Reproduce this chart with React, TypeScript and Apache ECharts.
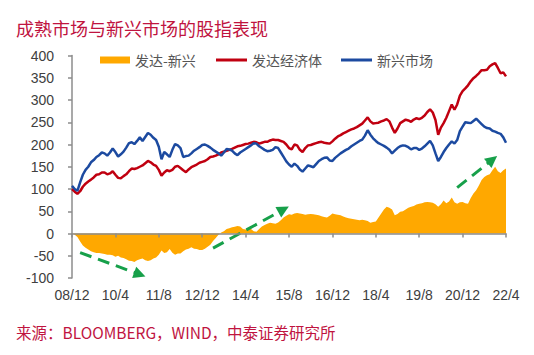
import React, { useEffect, useRef } from "react";
import * as echarts from "echarts";

// Monthly categories, 2008/12 .. 2022/4
const START_YEAR = 2008;
const START_MONTH = 12;
const N_MONTHS = 161;
const months: string[] = [];
for (let i = 0; i < N_MONTHS; i++) {
  const t = START_YEAR * 12 + (START_MONTH - 1) + i;
  const y = Math.floor(t / 12);
  const m = (t % 12) + 1;
  months.push(`${String(y % 100).padStart(2, "0")}/${m}`);
}

const titleText = "成熟市场与新兴市场的股指表现";
const sourceText = "来源：BLOOMBERG，WIND，中泰证券研究所";
const seriesNames = ["发达-新兴", "发达经济体", "新兴市场"];

// 新兴市场 (emerging markets index)
const emerging = [
  107, 100, 96, 115, 132, 143, 150, 160, 165, 172,
  176, 182, 180, 175, 182, 191, 183, 173, 178, 184,
  193, 203, 205, 201, 208, 216, 208, 217, 226, 222,
  215, 210, 195, 167, 183, 178, 172, 188, 201, 198,
  192, 172, 174, 175, 180, 186, 190, 194, 199, 200,
  197, 193, 188, 184, 180, 175, 182, 190, 189, 186,
  180, 176, 182, 186, 190, 194, 198, 203, 202, 196,
  192, 188, 185, 186, 188, 194, 192, 182, 172, 162,
  155, 150, 157, 152, 144, 139, 146, 153, 151, 149,
  156, 163, 167, 170, 171, 164, 163, 170, 175, 180,
  184, 188, 191, 196, 200, 204, 208, 211, 220, 232,
  222, 214, 208, 203, 200, 197, 193, 188, 180, 186,
  192, 196, 198, 197, 194, 189, 192, 192, 188, 191,
  196, 202, 208, 198, 180, 163, 172, 183, 192, 200,
  207, 202, 210, 230, 240, 250, 249, 248, 253, 258,
  252, 246, 240, 237, 236, 231, 229, 226, 224, 216,
  204,
];

// 发达经济体 (developed markets index)
const developed = [
  100, 94, 89, 95, 105, 112, 117, 121, 126, 132,
  133, 137, 137, 133, 135, 140, 132, 125, 124, 129,
  133, 140, 146, 145, 147, 150, 153, 158, 163, 160,
  155, 152, 143, 130, 137, 142, 140, 143, 150, 152,
  147, 142, 138, 144, 149, 152, 155, 159, 161, 163,
  167, 172, 173, 175, 178, 182, 184, 186, 188, 190,
  193, 196, 197, 199, 201, 202, 204, 206, 205, 202,
  204, 206, 206, 209, 211, 210, 210, 208, 206, 200,
  192, 189, 200, 198, 188, 183, 192, 198, 199, 201,
  203, 205, 206, 204, 203, 202, 207, 213, 218, 221,
  225, 228, 231, 234, 236, 239, 243, 247, 254, 261,
  252, 247, 248, 249, 252, 254, 257, 252, 238, 226,
  236, 248, 252, 256, 254, 251, 256, 259, 257, 260,
  265, 273, 279, 272, 255, 222, 238, 248, 260, 275,
  290, 278, 290, 310, 320, 326, 333, 342, 349, 354,
  360, 367, 367, 368, 376, 380, 383, 372, 360, 362,
  353,
];

// 发达-新兴 (spread)
const spread = [
  0, -3, -8, -18, -27, -32, -36, -40, -42, -44,
  -44, -45, -46, -48, -48, -49, -52, -50, -54, -55,
  -58, -61, -62, -64, -60, -58, -56, -60, -62, -60,
  -56, -54, -48, -38, -44, -42, -35, -43, -48, -45,
  -45, -40, -36, -34, -31, -34, -35, -37, -37, -34,
  -30, -25, -17, -10, -3, 2, 5, 10, 12, 14,
  15, 17, 16, 10, 9, 12, 10, 5, 4, 10,
  16, 19, 22, 24, 23, 22, 25, 30, 36, 40,
  43, 42, 45, 46, 45, 44, 42, 43, 44, 43,
  42, 41, 39, 37, 36, 40, 45, 43, 42, 41,
  38, 36, 34, 33, 32, 31, 30, 31, 30, 28,
  24, 26, 27, 36, 45, 54, 60, 58, 54, 41,
  44, 49, 50, 54, 58, 60, 62, 65, 67, 68,
  70, 71, 70, 69, 66, 60, 66, 74, 68, 72,
  81, 70, 67, 70, 71, 68, 67, 80, 90, 97,
  108, 120, 127, 131, 133, 142, 150, 140, 136, 142,
  146,
];

// Trend arrows: [startIndex, startValue], [endIndex, endValue]
const arrows: [number, number][][] = [
  [[3, -43], [25, -92]],
  [[52, -33], [78, 54]],
  [[142, 103], [155, 166]],
];

const Y_MIN = -100;
const Y_MAX = 400;
const Y_STEP = 50;
const LABEL_EVERY = 16;

const CRIMSON = "#C0143F";
const ORANGE = "#FFA800";
const RED = "#C00010";
const BLUE = "#1C4AA0";
const GREEN = "#17A04A";
const AXIS = "#8C8C8C";
const TEXT = "#404040";
const NUM_FONT = "'Liberation Sans', Arial, sans-serif";
const CJK_FONT = "'Noto Sans CJK SC', 'Noto Sans', sans-serif";

export default function App() {
  const ref = useRef<HTMLDivElement>(null);

  useEffect(() => {
    if (!ref.current) return;
    const chart = echarts.init(ref.current, undefined, { renderer: "svg" });
    const option: any = {
      animation: false,
      backgroundColor: "#ffffff",
      title: [
        {
          text: titleText,
          left: 16,
          top: 19,
          padding: 0,
          textStyle: { color: CRIMSON, fontSize: 18, fontWeight: "normal", fontFamily: CJK_FONT },
        },
        {
          text: sourceText,
          left: 16,
          top: 324,
          padding: 0,
          textStyle: { color: CRIMSON, fontSize: 15.5, fontWeight: "normal", fontFamily: CJK_FONT },
        },
      ],
      legend: [
        {
          data: [{ name: seriesNames[0], icon: "rect" }],
          left: 100,
          top: 53,
          padding: 0,
          itemWidth: 30,
          itemHeight: 7,
          textStyle: { color: "#555", fontSize: 14, fontFamily: CJK_FONT },
        },
        {
          data: [
            { name: seriesNames[1], icon: "rect" },
            { name: seriesNames[2], icon: "rect" },
          ],
          left: 216,
          top: 53,
          padding: 0,
          itemWidth: 31,
          itemHeight: 3,
          itemGap: 19,
          textStyle: { color: "#555", fontSize: 14, fontFamily: CJK_FONT },
        },
      ],
      grid: {
        left: 72,
        right: 28,
        top: 55.5,
        bottom: 77,
        containLabel: false,
        outerBoundsMode: "none",
      },
      xAxis: [
        {
          type: "category",
          data: months,
          boundaryGap: false,
          z: 5,
          axisLine: { show: true, onZero: true, lineStyle: { color: AXIS, width: 1.5 } },
          axisTick: { show: true, interval: LABEL_EVERY - 1, length: 4, lineStyle: { color: AXIS, width: 1.5 } },
          axisLabel: { show: false },
          splitLine: { show: false },
        },
        {
          type: "category",
          data: months,
          boundaryGap: false,
          position: "bottom",
          axisLine: { show: false, onZero: false },
          axisTick: { show: false },
          axisLabel: {
            show: true,
            interval: LABEL_EVERY - 1,
            margin: 10,
            color: TEXT,
            fontSize: 14,
            fontFamily: NUM_FONT,
            showMaxLabel: true,
          },
          splitLine: { show: false },
        },
      ],
      yAxis: {
        type: "value",
        min: Y_MIN,
        max: Y_MAX,
        interval: Y_STEP,
        axisLine: { show: true, lineStyle: { color: AXIS, width: 1.5 } },
        axisTick: { show: true, length: 4, lineStyle: { color: AXIS, width: 1.5 } },
        axisLabel: { color: TEXT, fontSize: 14, fontFamily: NUM_FONT, margin: 18 },
        splitLine: { show: false },
      },
      series: [
        {
          name: seriesNames[0],
          type: "line",
          data: spread,
          xAxisIndex: 0,
          symbol: "none",
          itemStyle: { color: ORANGE },
          lineStyle: { width: 0, color: ORANGE },
          areaStyle: { color: ORANGE, opacity: 1 },
          z: 2,
          markLine: {
            silent: true,
            symbol: ["none", "triangle"],
            symbolSize: 12,
            label: { show: false },
            emphasis: { disabled: true },
            lineStyle: { color: GREEN, width: 3, type: [12, 7], opacity: 1 },
            itemStyle: { color: GREEN },
            data: arrows.map((a) => [{ coord: a[0] }, { coord: a[1] }]),
          },
        },
        {
          name: seriesNames[1],
          type: "line",
          data: developed,
          xAxisIndex: 0,
          symbol: "none",
          itemStyle: { color: RED },
          lineStyle: { width: 2.5, color: RED },
          z: 3,
        },
        {
          name: seriesNames[2],
          type: "line",
          data: emerging,
          xAxisIndex: 0,
          symbol: "none",
          itemStyle: { color: BLUE },
          lineStyle: { width: 2.5, color: BLUE },
          z: 4,
        },
      ],
    };
    chart.setOption(option);
    return () => chart.dispose();
  }, []);

  return (
    <div
      ref={ref}
      style={{ position: "absolute", left: 0, top: 0, width: 534, height: 355, background: "#fff" }}
    />
  );
}
